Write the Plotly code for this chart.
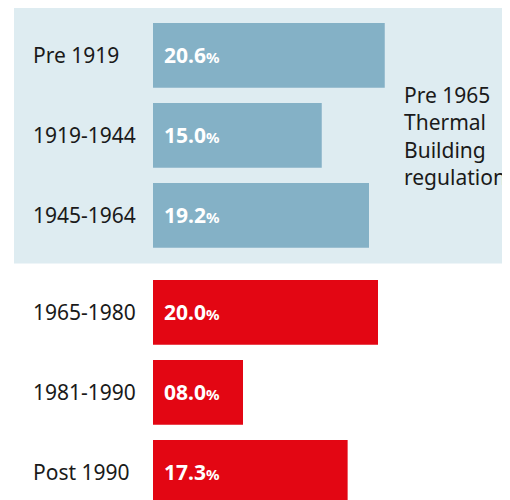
import plotly.graph_objects as go

categories = ["Pre 1919", "1919-1944", "1945-1964", "1965-1980", "1981-1990", "Post 1990"]
values = [20.6, 15.0, 19.2, 20.0, 8.0, 17.3]
value_labels = ["20.6", "15.0", "19.2", "20.0", "08.0", "17.3"]
groups = ["pre", "pre", "pre", "post", "post", "post"]
group_note = "Pre 1965<br>Thermal<br>Building<br>regulations"

BLUE = "#84B1C6"
RED = "#E30613"
BG = "#DEECF1"
FONT = "Noto Sans"

gap = 17 / 80
ypos = [i + (gap if g == "post" else 0) for i, g in enumerate(groups)]
colors = [BLUE if g == "pre" else RED for g in groups]

W, H = 510, 492
ML = 145
MR = 8
plot_w = W - ML - MR
C0 = 47.3  # pixel centre of first bar

fig = go.Figure(go.Bar(
    x=values, y=ypos, orientation="h", width=0.81,
    marker=dict(color=colors, line=dict(width=0)),
    hoverinfo="skip",
))

ann = []
for cat, yv, lab in zip(categories, ypos, value_labels):
    ann.append(dict(xref="paper", yref="y", x=0, y=yv, xshift=23 - ML, xanchor="left",
                    yanchor="middle", text=cat, showarrow=False,
                    font=dict(family=FONT, size=21, color="#1a1a1a")))
    ann.append(dict(xref="x", yref="y", x=0, y=yv, xshift=9, xanchor="left",
                    yanchor="middle",
                    text=f"<b>{lab}</b><b><span style='font-size:15px'>%</span></b>",
                    showarrow=False, font=dict(family=FONT, size=21, color="white")))
ann.append(dict(xref="paper", yref="y", x=(394 - ML) / plot_w, y=(128 - C0) / 80,
                xanchor="left", yanchor="middle", align="left", text=group_note,
                showarrow=False, font=dict(family=FONT, size=21, color="#1a1a1a")))

ymin = -C0 / 80
ymax = ymin + H / 80

fig.update_layout(
    width=W, height=H,
    margin=dict(l=ML, r=MR, t=0, b=0),
    paper_bgcolor="white", plot_bgcolor="rgba(0,0,0,0)",
    showlegend=False,
    xaxis=dict(range=[0, plot_w / 11.25], visible=False, fixedrange=True),
    yaxis=dict(range=[ymax, ymin], visible=False, fixedrange=True),
    annotations=ann,
    shapes=[dict(type="rect", xref="paper", yref="y", x0=(6 - ML) / plot_w, x1=1.1,
                 y0=(-2 - C0) / 80, y1=(255.5 - C0) / 80, fillcolor=BG,
                 line=dict(width=0), layer="below")],
)

fig.write_html("out.html")
